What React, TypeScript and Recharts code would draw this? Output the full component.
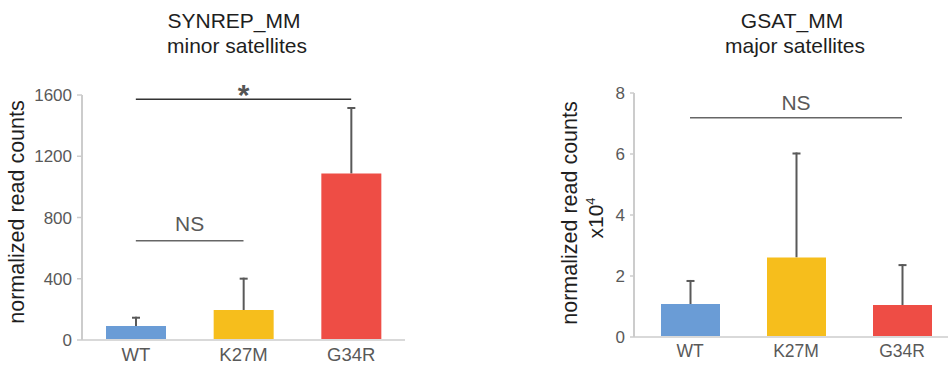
import React from 'react';
import { BarChart, Bar, XAxis, YAxis, Cell, ReferenceLine, Customized } from 'recharts';

const categories = ['WT', 'K27M', 'G34R'];
const barColors = ['#6a9cd6', '#f6be1c', '#ee4d45'];

const minorMeans = [91, 196, 1088];
const minorErrors = [61, 211, 434];
const minorTicks = [0, 400, 800, 1200, 1600];
const minorStarY = 1572;
const minorNsY = 648;

const majorMeans = [1.08, 2.61, 1.05];
const majorErrors = [0.79, 3.44, 1.34];
const majorTicks = [0, 2, 4, 6, 8];
const majorNsY = 7.19;

const FONT = '"Liberation Sans", Arial, Helvetica, sans-serif';
const TEXT_DARK = '#1e1e1e';
const TEXT_GRAY = '#595959';
const ERR_COLOR = '#595959';

const build = (means: number[], errs: number[]) =>
  categories.map((c, i) => ({ cat: c, value: means[i], err: errs[i] }));

const minorData = build(minorMeans, minorErrors);
const majorData = build(majorMeans, majorErrors);

const errRange = (d: any) => [d.value, d.value + d.err];

const ErrorShape = (props: any) => {
  const { x, y, width, height } = props;
  if (x == null || y == null) return null;
  const cx = x + width / 2;
  const top = Math.min(y, y + height);
  const bottom = Math.max(y, y + height);
  return (
    <g>
      <line x1={cx} x2={cx} y1={top} y2={bottom} stroke={ERR_COLOR} strokeWidth={2} />
      <line x1={cx - 4} x2={cx + 4} y1={top + 1} y2={top + 1} stroke={ERR_COLOR} strokeWidth={2} />
    </g>
  );
};

const tickStyle = { fill: TEXT_GRAY, fontSize: 17, fontFamily: FONT };

export default function App() {
  return (
    <div style={{ position: 'absolute', left: 0, top: 0, width: 948, height: 367, overflow: 'hidden', background: '#fff' }}>
      <div style={{ position: 'absolute', left: 0, top: 0 }}>
        <BarChart width={406} height={367} data={minorData} margin={{ top: 95, right: 1, bottom: 0, left: 0 }}>
          <XAxis
            xAxisId="main"
            dataKey="cat"
            height={27}
            tickLine={false}
            tickSize={0}
            tickMargin={8}
            interval={0}
            axisLine={{ stroke: '#d9d9d9', strokeWidth: 2 }}
            tick={{ ...tickStyle, fontSize: 18.5 }}
          />
          <XAxis xAxisId="err" dataKey="cat" hide orientation="top" height={0} />
          <YAxis
            width={82}
            domain={[0, 1600]}
            ticks={minorTicks}
            allowDataOverflow
            tickSize={5}
            tickMargin={5}
            axisLine={{ stroke: '#cccccc', strokeWidth: 2 }}
            tickLine={{ stroke: '#cccccc', strokeWidth: 1.5 }}
            tick={tickStyle}
          />
          <Bar xAxisId="err" dataKey={errRange} barSize={60} shape={ErrorShape} isAnimationActive={false} />
          <Bar xAxisId="main" dataKey="value" barSize={60} isAnimationActive={false}>
            {categories.map((c, i) => (
              <Cell key={c} fill={barColors[i]} />
            ))}
          </Bar>
          <ReferenceLine
            xAxisId="main"
            segment={[{ x: 'WT', y: minorStarY }, { x: 'G34R', y: minorStarY }]}
            stroke="#333333"
            strokeWidth={1.5}
            label={{ value: '*', position: 'top', offset: -6, fill: '#555555', fontSize: 30, fontWeight: 'bold', fontFamily: FONT }}
          />
          <ReferenceLine
            xAxisId="main"
            segment={[{ x: 'WT', y: minorNsY }, { x: 'K27M', y: minorNsY }]}
            stroke="#666666"
            strokeWidth={1.5}
            label={{ value: 'NS', position: 'top', offset: 10, fill: TEXT_GRAY, fontSize: 21, fontFamily: FONT }}
          />
          <Customized
            component={() => (
              <g fontFamily={FONT} fill={TEXT_DARK}>
                <text x={234} y={28} textAnchor="middle" fontSize={21}>SYNREP_MM</text>
                <text x={237} y={53} textAnchor="middle" fontSize={21}>minor satellites</text>
                <text transform="translate(24, 212) rotate(-90)" textAnchor="middle" fontSize={21.5}>
                  normalized read counts
                </text>
              </g>
            )}
          />
        </BarChart>
      </div>
      <div style={{ position: 'absolute', left: 540, top: 0 }}>
        <BarChart width={420} height={367} data={majorData} margin={{ top: 93, right: 5, bottom: 0, left: 0 }}>
          <XAxis
            xAxisId="main"
            dataKey="cat"
            height={30}
            tickLine={false}
            tickSize={0}
            tickMargin={8}
            interval={0}
            padding={{ left: 3, right: 0 }}
            axisLine={{ stroke: '#d9d9d9', strokeWidth: 2 }}
            tick={{ ...tickStyle, fontSize: 17.5 }}
          />
          <XAxis xAxisId="err" dataKey="cat" hide orientation="top" height={0} padding={{ left: 3, right: 0 }} />
          <YAxis
            width={94}
            domain={[0, 8]}
            ticks={majorTicks}
            allowDataOverflow
            tickSize={4}
            tickMargin={5}
            axisLine={{ stroke: '#cccccc', strokeWidth: 2 }}
            tickLine={{ stroke: '#cccccc', strokeWidth: 1.5 }}
            tick={tickStyle}
          />
          <Bar xAxisId="err" dataKey={errRange} barSize={59} shape={ErrorShape} isAnimationActive={false} />
          <Bar xAxisId="main" dataKey="value" barSize={59} isAnimationActive={false}>
            {categories.map((c, i) => (
              <Cell key={c} fill={barColors[i]} />
            ))}
          </Bar>
          <ReferenceLine
            xAxisId="main"
            segment={[{ x: 'WT', y: majorNsY }, { x: 'G34R', y: majorNsY }]}
            stroke="#666666"
            strokeWidth={1.5}
            label={{ value: 'NS', position: 'top', offset: 8, fill: TEXT_GRAY, fontSize: 21, fontFamily: FONT }}
          />
          <Customized
            component={() => (
              <g fontFamily={FONT} fill={TEXT_DARK}>
                <text x={252} y={28} textAnchor="middle" fontSize={21}>GSAT_MM</text>
                <text x={255} y={53} textAnchor="middle" fontSize={21}>major satellites</text>
                <text transform="translate(37, 213) rotate(-90)" textAnchor="middle" fontSize={21.5}>
                  normalized read counts
                </text>
                <text transform="translate(63, 218) rotate(-90)" textAnchor="middle" fontSize={21}>
                  x10<tspan fontSize={13} dy={-8}>4</tspan>
                </text>
              </g>
            )}
          />
        </BarChart>
      </div>
    </div>
  );
}
